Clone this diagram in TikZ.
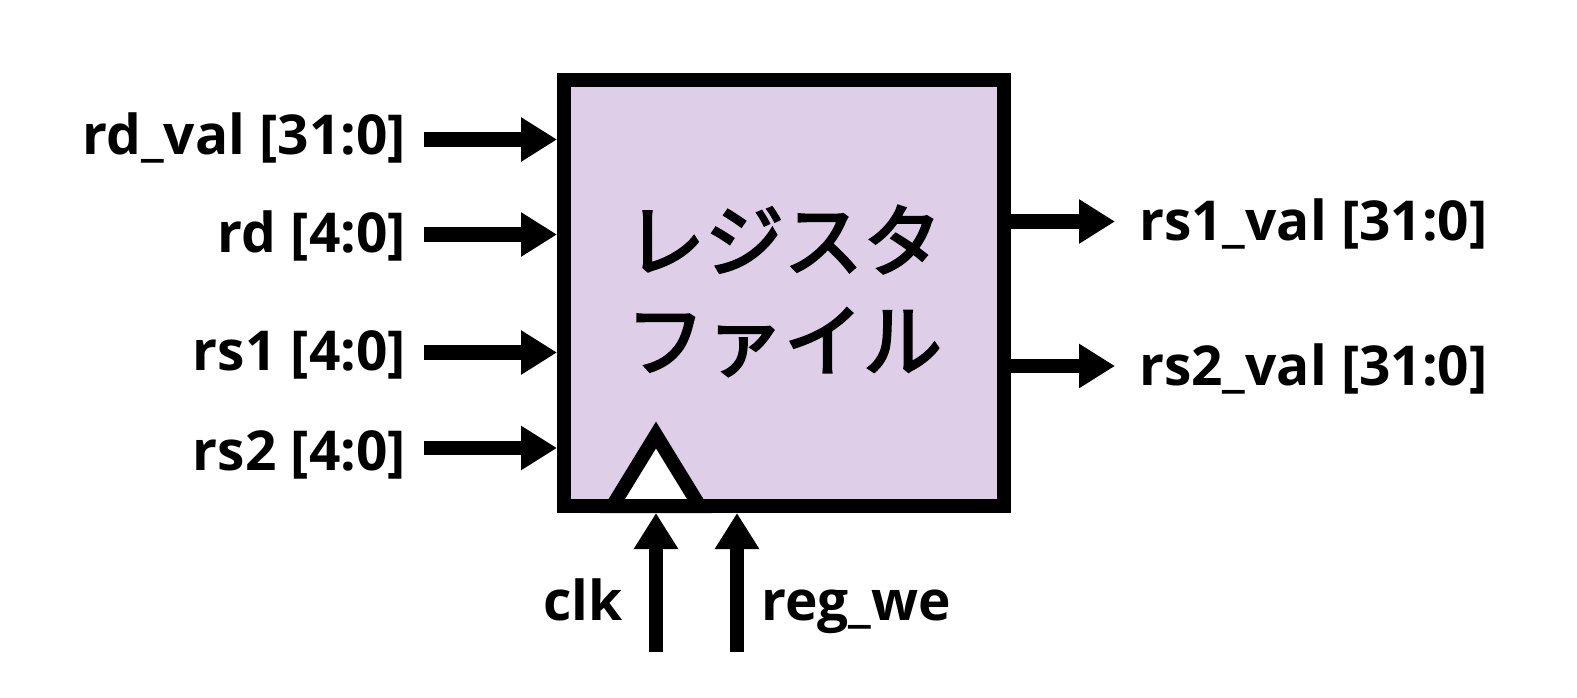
\documentclass[tikz,border=0pt]{standalone}
\usepackage{fontspec}
\setmainfont{Open Sans}
\newfontfamily\jpfont{Noto Sans CJK JP}[FakeBold=3]
\usetikzlibrary{arrows.meta}
\definecolor{regfill}{RGB}{222,206,232}
\tikzset{
  arr/.style={line width=14.5pt, -{Triangle[length=36pt,width=42pt]}},
  lbl/.style={inner sep=0pt, font=\bfseries\fontsize{55}{60}\selectfont},
  regbox/.style={draw, line width=14pt, fill=regfill, minimum width=440pt, minimum height=426pt, inner sep=0pt, line join=miter},
  ttl/.style={align=center, inner sep=0pt, font=\jpfont\fontsize{79}{100}\selectfont},
}
\begin{document}
\begin{tikzpicture}[x=1pt,y=-1pt]
\useasboundingbox (0,0) rectangle (1577,698);
\node[regbox] (reg) at (784,293) {};
\node[ttl] (title) at (784,291) {レジスタ\\ファイル};
\draw[line width=14pt, line join=miter, fill=white] (612.5,506) -- (656,435) -- (699.5,506) -- cycle;
% inputs
\coordinate (i1) at (424,139.5);
\coordinate (i2) at (424,234.5);
\coordinate (i3) at (424,352.5);
\coordinate (i4) at (424,448);
\draw[arr] (i1) -- (i1 -| reg.west);
\draw[arr] (i2) -- (i2 -| reg.west);
\draw[arr] (i3) -- (i3 -| reg.west);
\draw[arr] (i4) -- (i4 -| reg.west);
\node[lbl, anchor=base east] (l1) at (406,155) {rd\_val [31:0]};
\node[lbl, anchor=base east] (l2) at (406,252) {rd [4:0]};
\node[lbl, anchor=base east] (l3) at (406,370) {rs1 [4:0]};
\node[lbl, anchor=base east] (l4) at (406,470) {rs2 [4:0]};
% outputs
\coordinate (o1) at (1115,221.5);
\coordinate (o2) at (1115,366);
\draw[arr] (o1 -| reg.east) -- (o1);
\draw[arr] (o2 -| reg.east) -- (o2);
\node[lbl, anchor=base west] (r1) at (1139,240) {rs1\_val [31:0]};
\node[lbl, anchor=base west] (r2) at (1139,385) {rs2\_val [31:0]};
% bottom
\coordinate (c1) at (656,652);
\coordinate (c2) at (737,652);
\draw[arr] (c1) -- (c1 |- reg.south);
\draw[arr] (c2) -- (c2 |- reg.south);
\node[lbl, anchor=base east] (clk) at (623,620) {clk};
\node[lbl, anchor=base west] (we) at (761,620) {reg\_we};
\end{tikzpicture}
\end{document}
